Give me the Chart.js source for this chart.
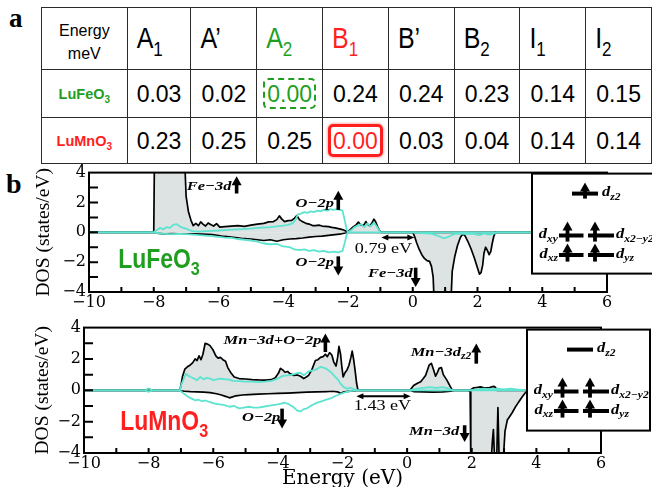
<!DOCTYPE html>
<html lang="en">
<head>
<meta charset="utf-8">
<title>Energy gaps and density of states of LuFeO3 and LuMnO3</title>
<script src="https://cdn.jsdelivr.net/npm/chart.js@4.4.1/dist/chart.umd.min.js"></script>
<style>
  html, body { margin: 0; padding: 0; background: #fff; overflow: hidden; }
  #page { position: relative; width: 652px; height: 487px; overflow: hidden; }
  .tag { position: absolute; font: bold 27px/27px "Liberation Serif", serif; color: #000; }
  #gaps { position: absolute; left: 41px; top: 7px; border-collapse: collapse; table-layout: fixed;
          font-family: "Liberation Sans", Arial, sans-serif; color: #000; }
  #gaps td { border: 1.5px solid #2a2a2a; padding: 0; text-align: center; vertical-align: middle; white-space: nowrap; }
  #gaps tr.head td { text-align: left; padding-left: 9px; font-size: 25px; }
  #gaps tr.head td.corner { text-align: center; padding-left: 0; font-size: 16px; line-height: 23px; padding-top: 6px; }
  .lv { display: inline-block; transform: scaleY(1.2); transform-origin: 50% 55%; }
  .lv sub { font-size: 17px; vertical-align: -6px; line-height: 0; }
  #gaps td.cmp { font-weight: bold; font-size: 14.5px; }
  .cmp sub { font-size: 10px; vertical-align: -4px; line-height: 0; }
  #gaps td.val { font-size: 23px; }
  .num { display: inline-block; transform: scaleY(1.08); }
  .box { display: inline-block; padding: 1px 2px; border-radius: 5px; line-height: 25px; }
  canvas { position: absolute; left: 0; }
</style>
</head>
<body>
<div id="page">
  <div class="tag" style="left:9px;top:5px">a</div>
  <table id="gaps"></table>
  <div class="tag" style="left:6px;top:170px;font-size:28px">b</div>
  <canvas id="dosFe" width="652" height="152" style="top:160px"></canvas>
  <canvas id="dosMn" width="652" height="180" style="top:315px"></canvas>
</div>
<script>
// ---- Panel a: calculated energy differences (meV) of the magnetic configurations ----
const gapLevels    = ['A', 'A\u2019', 'A', 'B', 'B\u2019', 'B', 'I', 'I'];
const gapLevelSubs = ['1', '', '2', '1', '', '2', '1', '2'];
const compoundNames  = ['LuFeO', 'LuMnO'];
const compoundColors = ['#1f9e1f', '#ff1f1f'];
const luFeO3Gaps = [0.03, 0.02, 0.00, 0.24, 0.24, 0.23, 0.14, 0.15];
const luMnO3Gaps = [0.23, 0.25, 0.25, 0.00, 0.03, 0.04, 0.14, 0.14];

// ---- Panel b: spin-resolved DOS, [energy (eV), DOS (states/eV)] ----
const energyTicks = [-10, -8, -6, -4, -2, 0, 2, 4, 6];
const dosTicks = [-4, -2, 0, 2, 4];

// LuFeO3 total DOS, spin up
const feTotalUp = [[-10,0],[-8.0,0],[-7.98,4.6],[-7.04,4.6],[-7.0,2.4],[-6.93,1.4],[-6.85,0.8],[-6.78,0.45],[-6.7,0.6],[-6.62,0.45],[-6.55,0.7],[-6.48,0.55],[-6.4,0.42],[-6.32,0.62],[-6.23,0.5],[-6.15,0.42],[-6.06,0.58],[-5.96,0.35],[-5.8,0.38],[-5.6,0.42],[-5.4,0.45],[-5.2,0.4],[-5.0,0.48],[-4.8,0.55],[-4.6,0.6],[-4.45,0.7],[-4.3,0.72],[-4.2,0.85],[-4.12,1.1],[-4.05,0.9],[-3.96,0.72],[-3.85,0.78],[-3.74,0.8],[-3.65,0.95],[-3.58,1.12],[-3.5,0.85],[-3.4,0.7],[-3.3,0.6],[-3.2,0.55],[-3.1,0.45],[-3.0,0.45],[-2.9,0.48],[-2.8,0.42],[-2.7,0.4],[-2.6,0.38],[-2.5,0.33],[-2.4,0.3],[-2.3,0.25],[-2.2,0.2],[-2.1,0.12],[-2.02,0.03],[-1.95,0.15],[-1.85,0.35],[-1.75,0.5],[-1.68,0.68],[-1.6,0.5],[-1.52,0.45],[-1.45,0.72],[-1.4,0.55],[-1.34,0.45],[-1.27,0.58],[-1.2,0.88],[-1.15,0.72],[-1.08,0.35],[-1.02,0.1],[-0.97,0],[6,0]];
// LuFeO3 total DOS, spin down
const feTotalDn = [[-10,0],[-8.0,0],[-7.9,-0.05],[-7.7,-0.1],[-7.4,-0.08],[-7.1,-0.12],[-6.8,-0.1],[-6.5,-0.12],[-6.2,-0.15],[-5.9,-0.25],[-5.6,-0.32],[-5.3,-0.4],[-5.0,-0.45],[-4.8,-0.5],[-4.6,-0.55],[-4.4,-0.5],[-4.2,-0.6],[-4.0,-0.5],[-3.8,-0.45],[-3.6,-0.42],[-3.4,-0.38],[-3.2,-0.32],[-3.0,-0.28],[-2.8,-0.25],[-2.6,-0.2],[-2.4,-0.15],[-2.2,-0.1],[-2.05,-0.03],[-2.0,0],[0.0,0],[0.06,-0.3],[0.12,-0.7],[0.2,-1.15],[0.28,-1.5],[0.36,-1.75],[0.44,-1.9],[0.52,-1.95],[0.58,-2.3],[0.63,-3.0],[0.66,-4.6],[1.18,-4.6],[1.22,-2.6],[1.3,-1.6],[1.38,-0.9],[1.47,-0.35],[1.55,-0.1],[1.62,-0.25],[1.7,-0.6],[1.8,-1.1],[1.9,-1.7],[2.0,-2.4],[2.06,-2.8],[2.11,-2.7],[2.16,-2.2],[2.2,-1.4],[2.25,-1.0],[2.3,-1.2],[2.36,-1.5],[2.41,-1.3],[2.45,-0.8],[2.5,-0.3],[2.55,0],[6,0]];
// LuFeO3 O-2p partial DOS, spin up
const feO2pUp = [[-10,0],[-8.0,0],[-7.9,0.15],[-7.8,0.3],[-7.7,0.2],[-7.6,0.35],[-7.5,0.3],[-7.4,0.5],[-7.3,0.55],[-7.2,0.4],[-7.1,0.3],[-7.0,0.25],[-6.9,0.15],[-6.8,0.08],[-6.6,0.05],[-6.4,0.08],[-6.2,0.1],[-6.0,0.12],[-5.8,0.15],[-5.6,0.18],[-5.4,0.2],[-5.2,0.22],[-5.0,0.25],[-4.8,0.3],[-4.6,0.32],[-4.4,0.35],[-4.2,0.4],[-4.0,0.45],[-3.85,0.5],[-3.7,0.62],[-3.62,0.85],[-3.55,1.2],[-3.45,1.25],[-3.35,1.35],[-3.25,1.3],[-3.15,1.4],[-3.05,1.35],[-2.95,1.45],[-2.85,1.4],[-2.75,1.5],[-2.65,1.45],[-2.55,1.55],[-2.45,1.5],[-2.35,1.55],[-2.25,1.5],[-2.17,1.45],[-2.1,0.8],[-2.04,0.2],[-2.0,0],[-1.9,0.15],[-1.8,0.35],[-1.7,0.45],[-1.6,0.55],[-1.5,0.35],[-1.4,0.6],[-1.3,0.4],[-1.2,0.65],[-1.1,0.35],[-1.0,0],[6,0]];
// LuFeO3 O-2p partial DOS, spin down
const feO2pDn = [[-10,0],[-8.0,0],[-7.8,-0.08],[-7.5,-0.12],[-7.2,-0.1],[-7.0,-0.12],[-6.8,-0.15],[-6.5,-0.2],[-6.2,-0.25],[-6.0,-0.3],[-5.8,-0.35],[-5.6,-0.38],[-5.4,-0.45],[-5.2,-0.5],[-5.0,-0.55],[-4.8,-0.62],[-4.6,-0.75],[-4.4,-0.8],[-4.2,-0.78],[-4.0,-0.95],[-3.8,-1.0],[-3.65,-1.15],[-3.5,-1.2],[-3.35,-1.15],[-3.2,-1.25],[-3.05,-1.2],[-2.9,-1.3],[-2.75,-1.25],[-2.6,-1.35],[-2.45,-1.3],[-2.3,-1.35],[-2.17,-1.25],[-2.1,-0.7],[-2.04,-0.15],[-2.0,0],[0.0,0],[0.3,-0.05],[0.6,-0.1],[0.8,-0.25],[0.95,-0.4],[1.1,-0.3],[1.3,-0.1],[1.6,-0.08],[1.9,-0.1],[2.07,-0.2],[2.2,-0.08],[2.35,-0.15],[2.5,-0.1],[2.6,0],[6,0]];

// LuMnO3 total DOS, spin up
const mnTotalUp = [[-10,0],[-8.1,0],[-8.0,0.08],[-7.9,0],[-7.04,0],[-7.0,0.3],[-6.95,0.9],[-6.88,1.35],[-6.8,1.5],[-6.72,1.6],[-6.64,1.75],[-6.56,2.0],[-6.5,1.9],[-6.44,2.2],[-6.38,1.95],[-6.32,2.3],[-6.25,3.0],[-6.18,2.95],[-6.1,2.85],[-6.0,2.55],[-5.92,2.2],[-5.85,2.05],[-5.78,2.1],[-5.7,1.95],[-5.62,1.85],[-5.55,1.45],[-5.45,1.1],[-5.35,0.85],[-5.2,0.75],[-5.0,0.72],[-4.8,0.68],[-4.6,0.66],[-4.4,0.65],[-4.2,0.68],[-4.08,0.8],[-3.98,1.1],[-3.92,1.4],[-3.85,1.3],[-3.78,1.15],[-3.7,1.2],[-3.62,1.05],[-3.5,0.95],[-3.4,0.98],[-3.3,0.9],[-3.2,0.75],[-3.12,0.85],[-3.05,0.95],[-2.95,1.3],[-2.84,1.9],[-2.76,1.95],[-2.68,2.1],[-2.6,2.15],[-2.53,2.3],[-2.47,2.15],[-2.4,2.4],[-2.33,2.25],[-2.27,1.8],[-2.2,1.55],[-2.15,2.1],[-2.11,2.8],[-2.06,2.3],[-2.02,1.5],[-1.98,0.85],[-1.93,1.1],[-1.86,1.3],[-1.8,1.6],[-1.74,2.1],[-1.7,2.5],[-1.65,1.9],[-1.6,1.1],[-1.56,0.4],[-1.52,0],[0.09,0],[0.2,0.3],[0.32,0.45],[0.42,0.55],[0.5,0.75],[0.57,0.95],[0.63,1.3],[0.68,1.6],[0.75,1.72],[0.82,1.3],[0.88,0.9],[0.94,1.15],[0.99,1.4],[1.06,1.45],[1.12,1.0],[1.23,0.65],[1.32,0.3],[1.4,0],[1.95,0],[2.05,0.15],[2.15,0.18],[2.27,0.22],[2.4,0.15],[2.55,0.18],[2.68,0.25],[2.73,0.2],[2.78,0],[6,0]];
// LuMnO3 total DOS, spin down
const mnTotalDn = [[-10,0],[-8.1,0],[-8.0,-0.06],[-7.9,0],[-7.04,0],[-6.9,-0.05],[-6.7,-0.08],[-6.5,-0.1],[-6.3,-0.12],[-6.1,-0.15],[-5.9,-0.22],[-5.75,-0.3],[-5.6,-0.4],[-5.5,-0.48],[-5.4,-0.42],[-5.3,-0.35],[-5.1,-0.3],[-4.9,-0.28],[-4.6,-0.25],[-4.3,-0.22],[-4.0,-0.2],[-3.7,-0.18],[-3.4,-0.15],[-3.1,-0.12],[-2.8,-0.1],[-2.5,-0.08],[-2.3,-0.06],[-2.15,-0.1],[-2.05,-0.2],[-1.98,-0.12],[-1.9,-0.08],[-1.75,-0.05],[-1.6,-0.02],[-1.52,0],[0.09,0],[0.2,-0.08],[0.5,-0.1],[0.8,-0.12],[1.1,-0.1],[1.35,-0.05],[1.45,0],[1.9,0],[1.95,-0.1],[1.97,-4.6],[2.6,-4.6],[2.64,-3.2],[2.67,-2.5],[2.71,-4.6],[2.77,-4.6],[2.81,-1.1],[2.85,-4.6],[2.97,-4.6],[3.03,-2.6],[3.1,-1.9],[3.18,-1.65],[3.26,-1.4],[3.34,-1.1],[3.42,-0.85],[3.5,-0.6],[3.57,-0.4],[3.64,-0.2],[3.72,0],[6,0]];
// LuMnO3 O-2p partial DOS, spin up
const mnO2pUp = [[-10,0],[-8.1,0],[-8.0,0.12],[-7.9,0],[-7.04,0],[-6.97,0.45],[-6.9,0.8],[-6.85,1.05],[-6.78,0.95],[-6.7,0.85],[-6.6,0.75],[-6.5,0.65],[-6.4,0.85],[-6.3,0.7],[-6.2,0.8],[-6.1,0.75],[-6.0,0.65],[-5.9,0.7],[-5.8,0.75],[-5.7,0.72],[-5.6,0.7],[-5.5,0.68],[-5.4,0.6],[-5.2,0.58],[-5.0,0.55],[-4.8,0.55],[-4.6,0.52],[-4.4,0.55],[-4.2,0.6],[-4.0,0.75],[-3.85,0.92],[-3.7,0.95],[-3.55,1.0],[-3.4,1.1],[-3.3,1.12],[-3.2,0.95],[-3.05,1.2],[-2.95,1.25],[-2.85,1.3],[-2.75,1.4],[-2.68,1.5],[-2.6,1.45],[-2.52,1.4],[-2.45,1.3],[-2.35,1.15],[-2.27,0.95],[-2.15,0.7],[-2.06,0.42],[-1.97,0.22],[-1.85,0.1],[-1.75,0.15],[-1.65,0.08],[-1.52,0],[0.09,0],[0.3,0.1],[0.5,0.15],[0.7,0.2],[0.9,0.15],[1.1,0.2],[1.3,0.1],[1.4,0],[1.95,0],[2.2,0.08],[2.4,0.1],[2.6,0.05],[2.8,0.1],[3.0,0.06],[3.2,0.1],[3.4,0.05],[3.7,0],[6,0]];
// LuMnO3 O-2p partial DOS, spin down
const mnO2pDn = [[-10,0],[-8.1,0],[-8.0,-0.1],[-7.9,0],[-7.04,0],[-6.95,-0.15],[-6.85,-0.3],[-6.75,-0.45],[-6.65,-0.55],[-6.55,-0.65],[-6.45,-0.6],[-6.35,-0.7],[-6.25,-0.65],[-6.1,-0.75],[-5.95,-0.85],[-5.8,-0.9],[-5.65,-0.95],[-5.5,-1.05],[-5.35,-1.0],[-5.2,-1.15],[-5.05,-1.1],[-4.9,-1.05],[-4.75,-1.1],[-4.6,-1.1],[-4.45,-1.05],[-4.3,-1.0],[-4.15,-0.95],[-4.0,-0.9],[-3.9,-0.85],[-3.8,-0.78],[-3.65,-0.9],[-3.5,-1.1],[-3.4,-1.3],[-3.3,-1.35],[-3.2,-1.2],[-3.1,-1.15],[-2.95,-0.95],[-2.8,-0.8],[-2.65,-0.7],[-2.5,-0.6],[-2.35,-0.5],[-2.2,-0.35],[-2.05,-0.22],[-1.9,-0.12],[-1.75,-0.05],[-1.6,0],[6,0]];

// ---------------- table ----------------
(function buildTable() {
  const rows = [luFeO3Gaps, luMnO3Gaps];
  const colW = [86, 64, 66, 66, 66, 66, 66, 66, 66];
  const levelColor = gapLevels.map((_, i) => {
    const k = rows.findIndex(r => r[i] === 0);
    return k >= 0 ? compoundColors[k] : '#000';
  });
  let html = '<colgroup>' + colW.map(w => `<col style="width:${w}px">`).join('') + '</colgroup>';
  html += '<tr class="head" style="height:62px"><td class="corner">Energy<br>meV</td>';
  gapLevels.forEach((n, i) => {
    html += `<td style="color:${levelColor[i]}"><span class="lv">${n}${gapLevelSubs[i] ? '<sub>' + gapLevelSubs[i] + '</sub>' : ''}</span></td>`;
  });
  html += '</tr>';
  rows.forEach((vals, r) => {
    const col = compoundColors[r];
    html += `<tr style="height:${r === 0 ? 48 : 46}px"><td class="cmp" style="color:${col}">${compoundNames[r]}<sub>3</sub></td>`;
    vals.forEach(v => {
      const txt = v.toFixed(2);
      if (v === 0) {
        const style = r === 0
          ? `border:2.5px dashed ${col};color:${col}`
          : `border:3px solid ${col};color:${col};box-shadow:0 0 3px rgba(255,40,40,.7)`;
        html += `<td class="val"><span class="box" style="${style}"><span class="num">${txt}</span></span></td>`;
      } else {
        html += `<td class="val"><span class="num">${txt}</span></td>`;
      }
    });
    html += '</tr>';
  });
  document.getElementById('gaps').innerHTML = html;
})();

// ---------------- DOS panels ----------------
const serif = '"Liberation Serif", "Times New Roman", serif';
const GRAY = '#dde2e2';
const CYAN = 'rgb(92,228,208)';

function richText(ctx, parts, x, y, f, align) {
  ctx.save();
  ctx.textBaseline = 'middle';
  ctx.textAlign = 'left';
  ctx.fillStyle = f.color || '#000';
  const fontFor = sub => `${f.style || 'normal'} ${f.weight || 'normal'} ${sub ? f.subSize : f.size}px ${f.family}`;
  let w = 0;
  parts.forEach(([t, sub]) => { ctx.font = fontFor(sub); w += ctx.measureText(t).width; });
  const sx = f.sx || 1;
  ctx.translate(align === 'right' ? x - w * sx : x, y);
  ctx.scale(sx, 1);
  let cx = 0;
  parts.forEach(([t, sub]) => {
    ctx.font = fontFor(sub);
    ctx.fillText(t, cx, sub ? f.subDrop : 0);
    cx += ctx.measureText(t).width;
  });
  ctx.restore();
}

function spinArrow(ctx, x, yTail, yTip, shaft, headW, headL) {
  const dir = yTip < yTail ? 1 : -1;
  ctx.beginPath();
  ctx.lineWidth = shaft;
  ctx.moveTo(x, yTail);
  ctx.lineTo(x, yTip + dir * headL * 0.7);
  ctx.stroke();
  ctx.beginPath();
  ctx.moveTo(x, yTip);
  ctx.lineTo(x - headW / 2, yTip + dir * headL);
  ctx.lineTo(x + headW / 2, yTip + dir * headL);
  ctx.closePath();
  ctx.fill();
}

function gapArrow(ctx, x0, x1, y) {
  const hl = 7, hw = 6;
  ctx.beginPath();
  ctx.lineWidth = 2;
  ctx.moveTo(x0 + hl * 0.6, y);
  ctx.lineTo(x1 - hl * 0.6, y);
  ctx.stroke();
  ctx.beginPath();
  ctx.moveTo(x0, y); ctx.lineTo(x0 + hl, y - hw / 2); ctx.lineTo(x0 + hl, y + hw / 2); ctx.closePath();
  ctx.moveTo(x1, y); ctx.lineTo(x1 - hl, y - hw / 2); ctx.lineTo(x1 - hl, y + hw / 2); ctx.closePath();
  ctx.fill();
}

const noteFont  = { family: serif, style: 'italic', weight: 'bold', size: 13.5, subSize: 9.5, subDrop: 4, sx: 1.22 };
const gapFont   = { family: serif, size: 14.5, sx: 1.25 };
const orbFont   = { family: serif, style: 'italic', weight: 'bold', size: 15, subSize: 10.5, subDrop: 4.5, sx: 1.1 };

const dosDecor = {
  id: 'dosDecor',
  afterDatasetsDraw(chart, args, o) {
    const { ctx, chartArea: a, scales: { x, y } } = chart;
    const X = v => x.getPixelForValue(v), Y = v => y.getPixelForValue(v);
    ctx.save();
    ctx.fillStyle = '#000';
    ctx.strokeStyle = '#000';
    ctx.lineCap = 'butt';

    // inward ticks on the bottom and left edges, one per unit
    ctx.lineWidth = 2;
    ctx.beginPath();
    for (let v = x.min + 1; v < x.max; v++) { const px = X(v); ctx.moveTo(px, a.bottom); ctx.lineTo(px, a.bottom - 5); }
    for (let v = y.min + 1; v < y.max; v++) { const py = Y(v); ctx.moveTo(a.left, py); ctx.lineTo(a.left + 9, py); }
    ctx.stroke();
    // frame
    ctx.lineWidth = 2;
    ctx.strokeRect(a.left, a.top, a.right - a.left, a.bottom - a.top);

    // annotations
    o.labels.forEach(l => richText(ctx, l.parts, X(l.x), Y(l.y), noteFont));
    o.arrows.forEach(r => spinArrow(ctx, X(r.x), Y(r.from), Y(r.to), 3.6, 10, 9));
    gapArrow(ctx, X(o.gap.from), X(o.gap.to), Y(o.gap.y));
    richText(ctx, [[o.gap.text]], X(o.gap.labelX), Y(o.gap.labelY), gapFont);
    richText(ctx, [[o.compound.name], [o.compound.sub, true]], X(o.compound.x), Y(o.compound.y),
      { family: '"Liberation Sans", Arial, sans-serif', weight: 'bold', size: 27, subSize: 19, subDrop: 9, sx: 0.85, color: o.compound.color });

    // d-orbital occupation inset
    const b = o.inset;
    const L = a.right + b.dl, T = a.top + b.dt, R = a.right + b.dr, B = a.top + b.db;
    ctx.fillStyle = '#fff';
    ctx.fillRect(L, T, R - L, B - T);
    ctx.fillStyle = '#000';
    ctx.lineWidth = 2;
    ctx.strokeRect(L, T, R - L, B - T);
    b.rows.forEach(row => {
      const ry = T + row.y;
      ctx.lineWidth = 4;
      ctx.beginPath();
      row.bars.forEach(([x0, x1]) => { ctx.moveTo(L + x0, ry); ctx.lineTo(L + x1, ry); });
      ctx.stroke();
      row.arrows.forEach(ax => spinArrow(ctx, L + ax, ry + row.tail, ry - row.tip, 3.8, 10, 9));
      if (row.left) richText(ctx, [['d'], [row.left, true]], L + 26, ry - 1, orbFont, 'right');
      if (row.right) richText(ctx, [['d'], [row.right, true]], L + row.rightX, ry - 1, orbFont);
    });
    ctx.restore();
  }
};

function dosChart(id, series, lay, decor, withXTitle) {
  const pts = arr => arr.map(([e, d]) => ({ x: e, y: d }));
  const tickFont = { family: '"DejaVu Serif", serif', size: 16 };
  const fmt = v => (v < 0 ? '\u2212' + Math.abs(v) : String(v));
  return new Chart(document.getElementById(id), {
    type: 'line',
    data: {
      datasets: [
        { data: pts(series.totUp), borderColor: '#000', borderWidth: 1.7, backgroundColor: GRAY, fill: 'origin', order: 2 },
        { data: pts(series.totDn), borderColor: '#000', borderWidth: 1.7, backgroundColor: GRAY, fill: 'origin', order: 2 },
        { data: pts(series.oUp), borderColor: CYAN, borderWidth: 1.8, fill: false, order: 1 },
        { data: pts(series.oDn), borderColor: CYAN, borderWidth: 1.8, fill: false, order: 1 }
      ]
    },
    options: {
      responsive: false,
      animation: false,
      events: [],
      layout: { padding: lay.pad },
      elements: { point: { radius: 0 }, line: { tension: 0, borderJoinStyle: 'round' } },
      plugins: { legend: { display: false }, tooltip: { enabled: false }, dosDecor: decor },
      scales: {
        x: {
          type: 'linear', min: -10, max: 6,
          afterBuildTicks: s => { s.ticks = energyTicks.map(v => ({ value: v })); },
          afterFit: s => { s.height = lay.xHeight; },
          grid: { display: false, drawTicks: false },
          border: { display: false },
          ticks: { font: tickFont, color: '#000', padding: lay.xPad, maxRotation: 0, autoSkip: false, callback: fmt },
          title: withXTitle
            ? { display: true, text: 'Energy (eV)', color: '#000', font: { family: '"DejaVu Serif", serif', size: 20 }, padding: { top: 0, bottom: 4.5 } }
            : { display: false }
        },
        y: {
          type: 'linear', min: -4, max: 4,
          afterBuildTicks: s => { s.ticks = dosTicks.map(v => ({ value: v })); },
          afterFit: s => { s.width = lay.yWidth; },
          grid: { display: false, drawTicks: false },
          border: { display: false },
          ticks: { font: tickFont, color: '#000', padding: 3, callback: fmt },
          title: { display: true, text: 'DOS (states/eV)', color: '#000', font: { family: serif, size: 19.5 }, padding: { top: lay.titlePad, bottom: 0 } }
        }
      }
    },
    plugins: [dosDecor]
  });
}

const insetRows = (dz2Arrow) => [
  { y: 20, bars: [[40, 66]], arrows: dz2Arrow ? [53] : [], tail: 5, tip: 11, right: 'z2', rightX: 70 },
  { y: 62, bars: [[27, 51.5], [56, 82]], arrows: [35.5, 63], tail: 6, tip: 14, left: 'xy', right: 'x2\u2212y2', rightX: 84 },
  { y: 81.5, bars: [[27, 51.5], [56, 82]], arrows: [35.5, 63], tail: 6.5, tip: 11.5, left: 'xz', right: 'yz', rightX: 84 }
];

dosChart('dosFe',
  { totUp: feTotalUp, totDn: feTotalDn, oUp: feO2pUp, oDn: feO2pDn },
  { pad: { top: 8, right: 45, left: 0, bottom: 0 }, yWidth: 89, xHeight: 20, xPad: 1, titlePad: 32 },
  {
    labels: [
      { x: -6.98, y: 3.08, parts: [['Fe\u22123d']] },
      { x: -3.62, y: 1.95, parts: [['O\u22122p']] },
      { x: -3.62, y: -2.05, parts: [['O\u22122p']] },
      { x: -1.38, y: -2.75, parts: [['Fe\u22123d']] }
    ],
    arrows: [
      { x: -5.44, from: 2.6, to: 3.76 },
      { x: -2.30, from: 1.5, to: 2.79 },
      { x: -2.30, from: -1.61, to: -2.9 },
      { x: 0.09, from: -2.37, to: -3.66 }
    ],
    gap: { from: -0.97, to: 0.05, y: -0.35, text: '0.79 eV', labelX: -1.79, labelY: -1.14 },
    compound: { name: 'LuFeO', sub: '3', x: -9.1, y: -1.92, color: compoundColors[0] },
    inset: { dl: -75, dt: 1, dr: 60, db: 101, rows: insetRows(true) }
  }, false);

dosChart('dosMn',
  { totUp: mnTotalUp, totDn: mnTotalDn, oUp: mnO2pUp, oDn: mnO2pDn },
  { pad: { top: 12, right: 51, left: 0, bottom: 0 }, yWidth: 84, xHeight: 42, xPad: 1, titlePad: 31 },
  {
    labels: [
      { x: -5.68, y: 3.19, parts: [['Mn\u22123d+O\u22122p']] },
      { x: -5.11, y: -1.72, parts: [['O\u22122p']] },
      { x: 0.11, y: 2.42, parts: [['Mn\u22123d'], ['z2', true]] },
      { x: 0.06, y: -2.6, parts: [['Mn\u22123d']] }
    ],
    arrows: [
      { x: -2.53, from: 2.44, to: 3.62 },
      { x: -3.87, from: -1.17, to: -2.44 },
      { x: 2.14, from: 1.7, to: 2.98 },
      { x: 1.78, from: -2.23, to: -3.3 }
    ],
    gap: { from: -1.57, to: 0.11, y: -0.38, text: '1.43 eV', labelX: -1.65, labelY: -1.0 },
    compound: { name: 'LuMnO', sub: '3', x: -8.88, y: -2.04, color: compoundColors[1] },
    inset: { dl: -74, dt: 2, dr: 49, db: 103, rows: insetRows(false) }
  }, true);
</script>
</body>
</html>
